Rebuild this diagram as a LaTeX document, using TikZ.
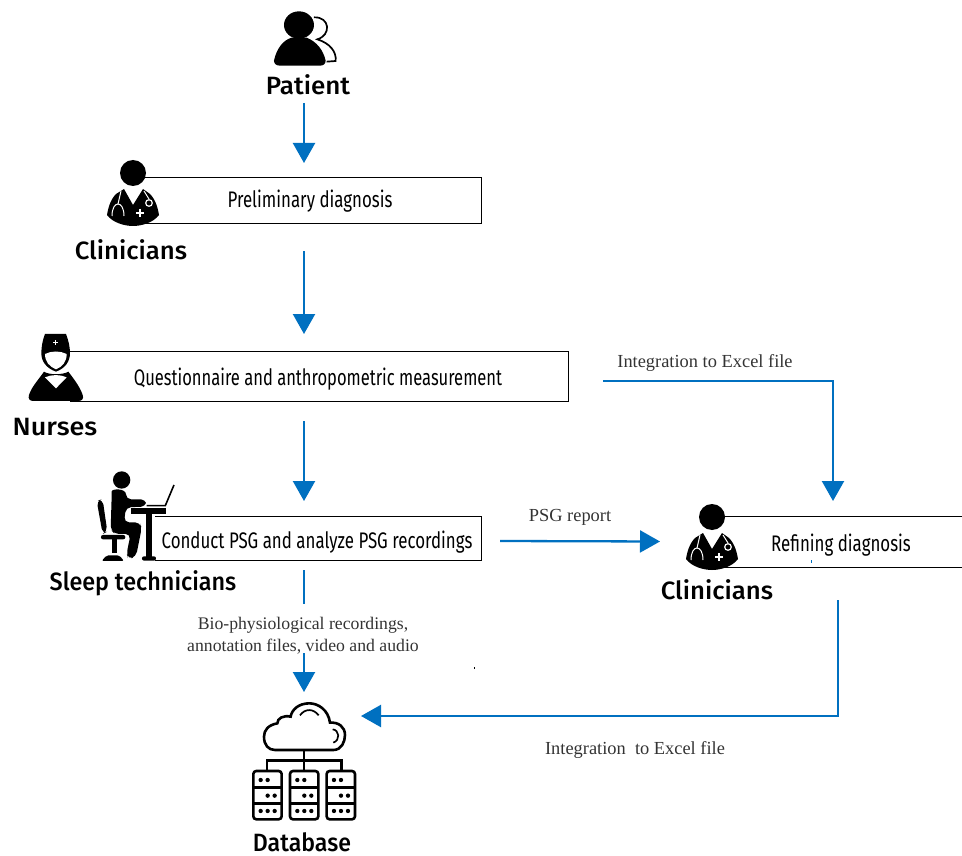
\documentclass[tikz,border=0pt]{standalone}
\usepackage{graphicx}
\usepackage{fontspec}
\setmainfont{Liberation Serif}
\newfontfamily\dinlabel{Fira Sans Medium}
\newfontfamily\dinbox[FakeStretch=0.75]{Fira Sans}
\usetikzlibrary{arrows.meta}
\definecolor{flowblue}{HTML}{0070C0}
\definecolor{notegray}{HTML}{333333}
\tikzset{
  flow/.style={draw=flowblue,line width=2.3pt,-{Triangle[width=22pt,length=20pt]}},
  flowplain/.style={draw=flowblue,line width=2.3pt},
  boxedge/.style={draw=black,line width=1pt},
  boxtext/.style={font=\dinbox\fontsize{22.5}{26}\selectfont,inner sep=0pt,anchor=center},
  boxarea/.style={inner sep=0pt,outer sep=0pt,draw=none},
  role/.style={font=\dinlabel\fontsize{25}{30}\selectfont,inner sep=0pt,anchor=center},
  note/.style={text=notegray,font=\fontsize{18.4}{23}\selectfont,inner sep=0pt,anchor=center,align=center},
  doctor/.pic={
    \fill[black] (0,0) circle (13);
    \fill[black] (-9,16) -- (0,32) -- (10,16) -- (17,21) .. controls (23,27) and (25,36) .. (26,42)
       .. controls (20,50) and (8,53) .. (0,53) .. controls (-8,53) and (-20,50) .. (-26,42)
       .. controls (-25,36) and (-23,27) .. (-17,21) -- cycle;
    \draw[white,line width=1pt] (-21,43) .. controls (-21,27) and (-9,27) .. (-9,43);
    \draw[white,line width=1pt] (-15,31) -- (-12,18);
    \draw[white,line width=1pt] (16,26) -- (11,18);
    \draw[white,line width=1.2pt] (16,30) circle (3.3);
    \draw[white,line width=2.4pt] (3,40) -- (11,40) (7,36) -- (7,44);
  }
}
\begin{document}
\begin{tikzpicture}[x=1pt,y=-1pt]
\useasboundingbox (0,0) rectangle (962,856);
% box regions
\node[boxarea,minimum width=336pt,minimum height=46pt] (prelim) at (313,201) {};
\node[boxarea,minimum width=498pt,minimum height=50pt] (quest) at (319,376) {};
\node[boxarea,minimum width=326pt,minimum height=44pt] (psg) at (318,538) {};
\node[boxarea,minimum width=237pt,minimum height=51pt] (refine) at (843.5,541.5) {};
\foreach \b in {prelim,quest,psg}
  \draw[boxedge] (\b.north west) -- (\b.north east) -- (\b.south east) -- (\b.south west);
\draw[boxedge] (refine.north west) -- (refine.north east) (refine.south west) -- (refine.south east);
% box texts
\node[boxtext] (prelimtext) at (310,201) {Preliminary diagnosis};
\node[boxtext] (questtext) at (318,379) {\scalebox{.98}[1]{Questionnaire and anthropometric measurement}};
\node[boxtext] (psgtext) at (317,542) {Conduct PSG and analyze PSG recordings};
\node[boxtext] (refinetext) at (841,545) {Refining diagnosis};
% role labels
\node[role] (patient) at (308,85) {\scalebox{1.04}[1]{Patient}};
\node[role] (clin1) at (131,250) {\scalebox{1.03}[1]{Clinicians}};
\node[role] (nurses) at (55,427) {\scalebox{1.08}[1]{Nurses}};
\node[role] (tech) at (143,583) {\scalebox{.935}[1]{Sleep technicians}};
\node[role] (clin2) at (717,590) {\scalebox{1.03}[1]{Clinicians}};
\node[role] (database) at (302,842) {\scalebox{.925}[1]{Database}};
% notes
\node[note] (exceltop) at (705,363) {Integration to Excel file};
\node[note] (psgreport) at (570,517) {PSG report};
\node[note] (excelbot) at (635,750) {Integration~ to Excel file};
\node[note,font=\fontsize{17.7}{22}\selectfont] (biolabel) at (303,636) {Bio-physiological recordings,\\annotation files, video and audio};
% icons
\begin{scope}[shift={(60,0)},x=.3333pt,y=-.3333pt]
  \fill[black] (717,75) ellipse (45 and 41);
  \fill[black] (642,182) .. controls (650,145) and (670,120) .. (695,113) -- (740,113)
     .. controls (770,125) and (790,150) .. (797,182) .. controls (797,192) and (790,197) .. (780,197)
     -- (660,197) .. controls (650,197) and (642,192) .. (642,182) -- cycle;
  \draw[black,line width=1.7pt] (762,52) .. controls (810,50) and (815,105) .. (772,118)
     .. controls (810,130) and (830,155) .. (827,183) -- (800,185);
\end{scope}
\pic at (133,173) {doctor};
\pic at (712,517) {doctor};
\begin{scope}[shift={(0,320)},x=.3333pt,y=-.3333pt]
  % nurse
  \fill[black] (135,42) -- (198,42) .. controls (205,60) and (210,80) .. (210,100)
     .. controls (210,125) and (195,145) .. (168,155) .. controls (140,145) and (124,125) .. (124,100)
     .. controls (124,80) and (128,60) .. (135,42) -- cycle;
  \fill[white] (135,102) .. controls (155,92) and (180,92) .. (200,102)
     .. controls (200,125) and (188,140) .. (168,148) .. controls (148,140) and (135,125) .. (135,102) -- cycle;
  \draw[white,line width=1.2pt] (160,68) -- (175,68) (167.5,61) -- (167.5,75);
  \fill[black] (132,155) .. controls (115,180) and (95,200) .. (87,225) .. controls (83,237) and (90,243) .. (100,243)
     -- (235,243) .. controls (247,243) and (252,235) .. (248,225) .. controls (240,200) and (220,175) .. (205,155)
     .. controls (190,165) and (145,165) .. (132,155) -- cycle;
  \fill[white] (135,172) .. controls (155,163) and (180,163) .. (200,172) -- (168,205) -- cycle;
  % technician
  \fill[black] (365,480) circle (26);
  \fill[black,rounded corners=5pt] (335,530) .. controls (335,505) and (378,505) .. (378,538) -- (438,538) -- (438,560)
     -- (378,562) -- (372,607) -- (420,607) -- (425,625) -- (408,710) -- (385,718) -- (380,700) -- (392,642)
     -- (345,642) -- (332,630) -- cycle;
  \fill[black,rounded corners=5pt] (290,542) -- (308,538) -- (322,635) -- (308,642) -- cycle;
  \fill[black,rounded corners=2pt] (303,645) -- (376,645) -- (376,658) -- (303,658) -- cycle;
  \fill[black] (335,658) rectangle (350,700);
  \fill[black,rounded corners=2pt] (305,723) -- (372,723) -- (358,706) -- (320,706) -- cycle;
  \fill[black] (392,565) rectangle (497,581);
  \fill[black] (438,581) rectangle (455,710);
  \fill[black,rounded corners=2pt] (426,722) rectangle (468,709);
  \draw[black,line width=1.6pt] (440,557) -- (496,557) -- (522,495);
\end{scope}
\begin{scope}[shift={(220,690)},x=.3333pt,y=-.3333pt,line width=2.6pt,black]
  \draw (165,180) -- (340,180) .. controls (365,180) and (375,155) .. (375,135) .. controls (375,110) and (355,96) .. (330,98)
     .. controls (325,60) and (295,40) .. (268,40) .. controls (235,40) and (215,60) .. (212,80)
     .. controls (190,75) and (172,85) .. (172,100) .. controls (145,105) and (132,120) .. (132,140)
     .. controls (132,165) and (145,180) .. (165,180) -- cycle;
  \draw[line width=1.7pt] (240,76) .. controls (255,55) and (280,55) .. (296,76);
  \draw[line width=1.7pt] (338,118) .. controls (358,120) and (362,150) .. (340,158);
  \draw (252,180) -- (252,243) (141,243) -- (141,212) -- (364,212) -- (364,243);
  \foreach \sx in {0,110,220}{
    \begin{scope}[xshift=\sx*.3333pt]
      \draw[rounded corners=3pt] (100,243) rectangle (185,388);
      \draw (100,292) -- (185,292) (100,340) -- (185,340);
      \fill (122,270) circle (6.5) (143,270) circle (6.5);
      \fill (143,317) circle (6.5) (164,317) circle (6.5);
      \fill (122,363) circle (6.5) (143,363) circle (6.5) (164,363) circle (6.5);
    \end{scope}
  }
\end{scope}
% specks
\fill[flowblue] (810.5,560) rectangle (812,563);
\fill[black] (473.8,667) rectangle (474.8,669);
% free ends at the database
\coordinate (dbtop) at (304,692);
\coordinate (dbright) at (361,716);
% connectors
\draw[flow] ([shift={(-4,18)}]patient.center) -- ([shift={(-9,-15)}]prelim.north);
\draw[flow] ([shift={(-9,27)}]prelim.south) -- ([shift={(-15,-17)}]quest.north);
\draw[flow] ([shift={(-15,20)}]quest.south) -- ([shift={(-14,-15)}]psg.north);
\draw[flow] ([shift={(19,3)}]psg.east) -- ([shift={(-65,0)}]refine.west);
\draw[flow] ([shift={(35,5)}]quest.east) -| ([shift={(-10.5,-15)}]refine.north);
\draw[flow] ([shift={(-5.5,33)}]refine.south) |- (dbright);
\draw[flowplain] ([shift={(-14,10)}]psg.south) -- ([shift={(1,-32)}]biolabel.center);
\draw[flow] ([shift={(1,17)}]biolabel.center) -- (dbtop);
\end{tikzpicture}
\end{document}
